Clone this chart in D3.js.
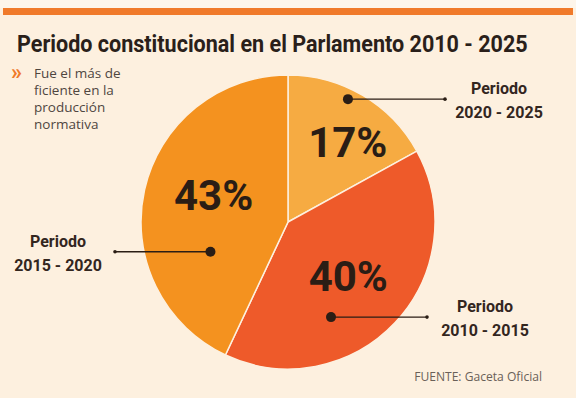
<!DOCTYPE html>
<html>
<head>
<meta charset="utf-8">
<script src="https://cdn.jsdelivr.net/npm/d3@7"></script>
<style>
  body { margin: 0; background: #fdf0df; }
  svg { display: block; }
</style>
</head>
<body>
<svg id="chart"></svg>
<script>
// data
const periods = ["2020 - 2025", "2010 - 2015", "2015 - 2020"];
const shares = [17, 40, 43];
const colors = ["#f6ab42", "#ee5a2a", "#f4921f"];
const titleText = "Periodo constitucional en el Parlamento 2010 - 2025";
const noteLines = ["Fue el más de", "ficiente en la", "producción", "normativa"];
const sourceText = "FUENTE:  Gaceta Oficial";

const width = 576, height = 398;
const cx = 288, cy = 222, radius = 147;

const svg = d3.select("#chart")
  .attr("width", width)
  .attr("height", height);

svg.append("rect")
  .attr("width", width).attr("height", height)
  .attr("fill", "#fdf0df");
svg.append("rect")
  .attr("width", width).attr("height", 8)
  .attr("fill", "#fdf5ea");
svg.append("rect")
  .attr("x", 3).attr("y", 8)
  .attr("width", width - 6).attr("height", 7)
  .attr("fill", "#f07a2a");

// title, squeezed horizontally to look like the condensed face
const title = svg.append("text")
  .style("font-family", "Roboto, sans-serif")
  .style("font-weight", "bold")
  .style("font-size", "24px")
  .attr("fill", "#2a1f1a")
  .text(titleText);
const tw = title.node().getComputedTextLength();
title.attr("transform", `translate(17,52) scale(${511 / tw},1)`);

svg.append("text")
  .attr("x", 11).attr("y", 79)
  .style("font-family", "Roboto, sans-serif")
  .style("font-weight", "bold")
  .style("font-size", "22px")
  .attr("fill", "#f07a2a")
  .text("»");

svg.append("g")
  .selectAll("text")
  .data(noteLines)
  .join("text")
  .attr("x", 34)
  .attr("y", (d, i) => 78 + i * 17)
  .style("font-family", "'Open Sans', sans-serif")
  .style("font-size", "13.5px")
  .attr("fill", "#4f463f")
  .text(d => d);

const pie = d3.pie().sort(null).value(d => d.value);
const data = periods.map((p, i) => ({ period: p, value: shares[i], color: colors[i] }));
const arcs = pie(data);

const arc = d3.arc().innerRadius(0).outerRadius(radius);

const g = svg.append("g").attr("transform", `translate(${cx},${cy})`);

g.selectAll("path.slice")
  .data(arcs)
  .join("path")
  .attr("class", "slice")
  .attr("d", arc)
  .attr("fill", d => d.data.color)
  .attr("stroke", "#fdf0df")
  .attr("stroke-width", 1.5);

// value labels, placed along each slice
const labelPlace = [[0.6, 0.68], [0.49, 0.55], [0.55, 0.54]];
const polar = (d, i, place) => {
  const a = d.startAngle + (d.endAngle - d.startAngle) * place[i][0];
  const r = radius * place[i][1];
  return [r * Math.sin(a), -r * Math.cos(a)];
};

g.selectAll("text.pct")
  .data(arcs)
  .join("text")
  .attr("class", "pct")
  .attr("x", (d, i) => polar(d, i, labelPlace)[0])
  .attr("y", (d, i) => polar(d, i, labelPlace)[1])
  .attr("dy", "0.36em")
  .attr("text-anchor", "middle")
  .style("font-family", "Roboto, sans-serif")
  .style("font-weight", "bold")
  .style("font-size", "42px")
  .attr("fill", "#2a1d15")
  .text(d => d.data.value + "%");

// leader lines: dot position in slice, line end relative to centre, side
const leaders = [
  { place: [0.425, 0.93], end: 157, textDx: 54 },
  { place: [0.656, 0.71], end: 139, textDx: 58 },
  { place: [0.283, 0.565], end: -173, textDx: -57 }
];

arcs.forEach((d, i) => {
  const L = leaders[i];
  const a = d.startAngle + (d.endAngle - d.startAngle) * L.place[0];
  const r = radius * L.place[1];
  const x = r * Math.sin(a), y = -r * Math.cos(a);
  g.append("line")
    .attr("x1", x).attr("y1", y)
    .attr("x2", L.end).attr("y2", y)
    .attr("stroke", "#2a1d15")
    .attr("stroke-width", 1.4);
  g.append("circle")
    .attr("cx", L.end).attr("cy", y).attr("r", 1.8)
    .attr("fill", "#2a1d15");
  g.append("circle")
    .attr("cx", x).attr("cy", y).attr("r", 5)
    .attr("fill", "#2a1d15");
  const t = g.append("text")
    .attr("x", L.end + L.textDx)
    .attr("text-anchor", "middle")
    .style("font-family", "Roboto, sans-serif")
    .style("font-weight", "bold")
    .style("font-size", "16px")
    .attr("fill", "#33261e");
  t.append("tspan").attr("x", L.end + L.textDx).attr("y", y - 5).text("Periodo");
  t.append("tspan").attr("x", L.end + L.textDx).attr("y", y + 19).text(d.data.period);
});

const src = svg.append("text")
  .attr("text-anchor", "end")
  .style("font-family", "'Open Sans', sans-serif")
  .style("font-size", "12px")
  .attr("fill", "#6a6058")
  .text(sourceText);
const sw = src.node().getComputedTextLength();
src.attr("transform", `translate(542,381) scale(${128 / sw},1)`);
</script>
</body>
</html>
